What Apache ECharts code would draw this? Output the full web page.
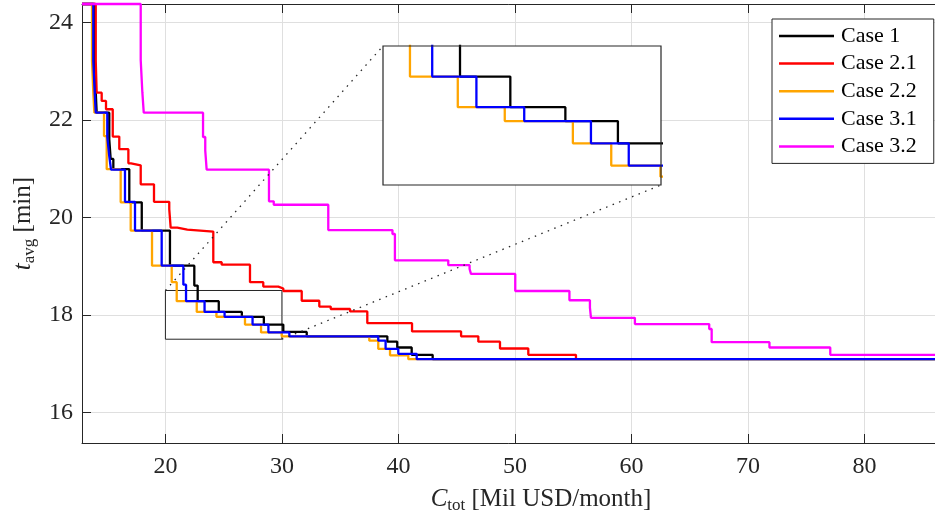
<!DOCTYPE html>
<html><head><meta charset="utf-8">
<script src="https://cdn.jsdelivr.net/npm/echarts@6/dist/echarts.min.js"></script>
<style>html,body{margin:0;padding:0;background:#fff}#c{width:935px;height:518px}</style>
</head><body><div id="c"></div>
<script>
// ---------- data ----------
const seriesNames = ['Case 1', 'Case 2.1', 'Case 2.2', 'Case 3.1', 'Case 3.2'];
const seriesColors = ['#000000', '#ff0000', '#ffa500', '#0000ff', '#ff00ff'];

const case1X = [12.84, 13.93, 14.02, 14.10, 15.18, 15.30, 15.53, 16.90, 17.97, 20.39, 22.48, 22.77, 24.58, 26.56, 28.45, 30.12, 32.13, 39.05, 39.90, 41.14, 42.94, 91.6];
const case1Y = [24.38, 23.21, 22.56, 22.15, 21.60, 21.20, 20.99, 20.31, 19.73, 19.01, 18.60, 18.28, 18.06, 17.96, 17.80, 17.65, 17.56, 17.45, 17.33, 17.18, 17.09, 17.09];

const case21X = [12.84, 14.02, 14.10, 14.53, 14.90, 15.48, 16.04, 16.82, 17.05, 17.88, 19.02, 20.33, 20.45, 21.02, 21.88, 24.11, 24.83, 27.26, 28.40, 29.69, 30.12, 31.70, 33.21, 34.19, 35.85, 37.33, 41.17, 45.38, 46.86, 48.72, 51.15, 55.24];
const case21Y = [24.38, 23.21, 22.56, 22.39, 22.22, 21.66, 21.40, 21.11, 21.07, 20.68, 20.32, 20.17, 19.79, 19.75, 19.71, 19.08, 19.03, 18.67, 18.58, 18.54, 18.49, 18.29, 18.17, 18.12, 18.07, 17.83, 17.66, 17.56, 17.45, 17.31, 17.18, 17.10];

const case22X = [12.84, 13.70, 13.81, 13.90, 14.73, 14.96, 16.16, 17.02, 18.85, 20.54, 20.97, 22.69, 24.38, 26.83, 28.21, 29.98, 37.50, 38.27, 39.28, 40.85, 91.6];
const case22Y = [24.38, 23.21, 22.56, 22.15, 21.67, 20.99, 20.31, 19.73, 19.01, 18.67, 18.28, 18.06, 17.96, 17.80, 17.64, 17.56, 17.47, 17.30, 17.17, 17.09, 17.09];

const case31X = [12.84, 13.81, 13.93, 14.02, 15.01, 15.18, 15.33, 16.53, 17.39, 19.68, 21.54, 21.77, 23.36, 25.08, 27.48, 28.84, 30.64, 38.27, 38.90, 39.99, 41.57, 91.6];
const case31Y = [24.38, 23.21, 22.56, 22.15, 21.66, 21.26, 20.98, 20.32, 19.73, 19.01, 18.62, 18.28, 18.06, 17.96, 17.80, 17.64, 17.56, 17.47, 17.30, 17.20, 17.09, 17.09];

const case32X = [12.84, 17.88, 18.02, 18.14, 23.23, 23.42, 23.54, 28.89, 29.30, 33.98, 39.49, 39.70, 44.28, 46.11, 46.23, 50.03, 54.68, 56.44, 56.53, 60.30, 66.68, 66.89, 71.85, 77.07, 91.6];
const case32Y = [24.38, 23.23, 22.57, 22.15, 21.65, 21.37, 20.98, 20.33, 20.26, 19.74, 19.66, 19.12, 19.02, 18.94, 18.84, 18.49, 18.30, 18.15, 17.94, 17.81, 17.71, 17.44, 17.33, 17.18, 17.18];

const xTicks = [20, 30, 40, 50, 60, 70, 80];
const yTicks = [16, 18, 20, 22, 24];
const xRange = [12.84, 91.64];
const yRange = [15.37, 24.38];
const zoomX = [20, 30];
const zoomY = [17.5, 18.5];

// ---------- chart ----------
const FONT = 'Liberation Serif';
const AX = '#262626';
const LW = 2.3;
const pair = (xs, ys) => xs.map((x, i) => [x, ys[i]]);
const allData = [pair(case1X, case1Y), pair(case21X, case21Y), pair(case22X, case22Y), pair(case31X, case31Y), pair(case32X, case32Y)];

const chart = echarts.init(document.getElementById('c'), null, {renderer: 'canvas'});

const INSET = {left: 383, top: 46, width: 278, height: 139};

const series = [];
seriesNames.forEach((n, i) => {
  series.push({
    name: n, type: 'line', xAxisIndex: 0, yAxisIndex: 0, data: allData[i],
    step: 'end', symbol: 'none', showSymbol: false, clip: false, z: 2 + i * 0.01,
    lineStyle: {color: seriesColors[i], width: LW}, itemStyle: {color: seriesColors[i]},
    animation: false
  });
});
series.push({
  name: 'zoombox', type: 'line', xAxisIndex: 0, yAxisIndex: 0, symbol: 'none', silent: true,
  data: [[zoomX[0], zoomY[0]], [zoomX[1], zoomY[0]], [zoomX[1], zoomY[1]], [zoomX[0], zoomY[1]], [zoomX[0], zoomY[0]]],
  lineStyle: {color: AX, width: 1}, z: 1, animation: false
});
[0, 1, 2, 3, 4].forEach(i => {
  series.push({
    name: seriesNames[i], type: 'line', xAxisIndex: 2, yAxisIndex: 1, data: allData[i],
    step: 'end', symbol: 'none', showSymbol: false, clip: true, z: 10 + i * 0.01,
    lineStyle: {color: seriesColors[i], width: LW}, animation: false
  });
});

const option = {
  animation: false,
  backgroundColor: '#fff',
  grid: [
    {left: 82, width: 918, top: 4, bottom: 75, containLabel: false, outerBoundsMode: 'none'},
    {left: INSET.left, top: INSET.top, width: INSET.width, height: INSET.height, containLabel: false, outerBoundsMode: 'none'}
  ],
  legend: {
    data: seriesNames, orient: 'vertical', left: 772, top: 19, icon: 'rect',
    padding: [6, 17, 6, 7], itemWidth: 55, itemHeight: 2.5, itemGap: 5.6,
    backgroundColor: '#fff', borderColor: AX, borderWidth: 1, borderRadius: 0,
    textStyle: {fontFamily: FONT, fontSize: 22, color: '#000', lineHeight: 22, padding: [0, 0, 0, 2]}, z: 20
  },
  xAxis: [
    {
      gridIndex: 0, type: 'value', min: xRange[0], max: xRange[1], position: 'bottom',
      axisLine: {onZero: false, lineStyle: {color: AX, width: 1}},
      axisTick: {inside: true, length: 9, customValues: xTicks, lineStyle: {color: AX}},
      axisLabel: {customValues: xTicks, fontFamily: FONT, fontSize: 24, color: AX, margin: 12},
      splitLine: {show: true, lineStyle: {color: '#dfdfdf', width: 1}},
      name: '{it|C}{sub|tot} [Mil USD/month]', nameLocation: 'middle', nameGap: 42,
      nameTextStyle: {fontFamily: FONT, fontSize: 25, color: AX,
        rich: {it: {fontFamily: FONT, fontSize: 25, fontStyle: 'italic', color: AX},
               sub: {fontFamily: FONT, fontSize: 17, color: AX, padding: [12, 0, 0, 0]}}}
    },
    {
      gridIndex: 0, type: 'value', min: xRange[0], max: xRange[1], position: 'top',
      axisLine: {onZero: false, lineStyle: {color: AX, width: 1}},
      axisTick: {inside: true, length: 9, customValues: xTicks, lineStyle: {color: AX}},
      axisLabel: {show: false}, splitLine: {show: false}
    },
    {gridIndex: 1, type: 'value', min: zoomX[0], max: zoomX[1], show: false, splitLine: {show: false}}
  ],
  yAxis: [
    {
      gridIndex: 0, type: 'value', min: yRange[0], max: yRange[1],
      axisLine: {onZero: false, lineStyle: {color: AX, width: 1}},
      axisTick: {inside: true, length: 9, customValues: yTicks, lineStyle: {color: AX}},
      axisLabel: {customValues: yTicks, fontFamily: FONT, fontSize: 24, color: AX, margin: 9},
      splitLine: {show: true, lineStyle: {color: '#dfdfdf', width: 1}},
      name: '{it|t}{sub|avg} [min]', nameLocation: 'middle', nameGap: 40, nameRotate: 90,
      nameTextStyle: {fontFamily: FONT, fontSize: 25, color: AX,
        rich: {it: {fontFamily: FONT, fontSize: 25, fontStyle: 'italic', color: AX},
               sub: {fontFamily: FONT, fontSize: 17, color: AX, padding: [12, 0, 0, 0]}}}
    },
    {gridIndex: 1, type: 'value', min: zoomY[0], max: zoomY[1], show: false, splitLine: {show: false}}
  ],
  series: series
};
chart.setOption(option);

const m1 = chart.convertToPixel({gridIndex: 0}, [zoomX[0], zoomY[1]]);
const m2 = chart.convertToPixel({gridIndex: 0}, [zoomX[1], zoomY[0]]);
const i1 = chart.convertToPixel({gridIndex: 1}, [zoomX[0], zoomY[1]]);
const i2 = chart.convertToPixel({gridIndex: 1}, [zoomX[1], zoomY[0]]);
chart.setOption({
  graphic: [
    {type: 'rect', z: 5, silent: true, shape: {x: i1[0], y: i1[1], width: i2[0] - i1[0], height: i2[1] - i1[1]},
     style: {fill: '#fff', stroke: null}},
    {type: 'rect', z: 12, silent: true, shape: {x: i1[0], y: i1[1], width: i2[0] - i1[0], height: i2[1] - i1[1]},
     style: {fill: null, stroke: AX, lineWidth: 1.2}},
    {type: 'line', z: 4, silent: true, shape: {x1: m1[0], y1: m1[1], x2: i1[0], y2: i1[1]},
     style: {stroke: AX, lineWidth: 1.3, lineDash: [1.5, 5.5]}},
    {type: 'line', z: 4, silent: true, shape: {x1: m2[0], y1: m2[1], x2: i2[0], y2: i2[1]},
     style: {stroke: AX, lineWidth: 1.3, lineDash: [1.5, 5.5]}}
  ]
});
</script>
</body></html>
